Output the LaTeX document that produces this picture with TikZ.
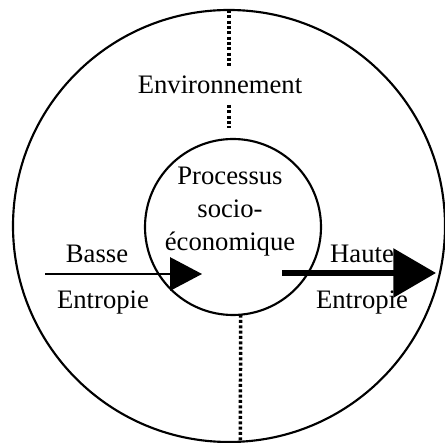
\documentclass[tikz,border=0pt]{standalone}
\usepackage{fontspec}
\setmainfont{Liberation Serif}
\usetikzlibrary{arrows.meta, positioning}

\begin{document}
\begin{tikzpicture}[
    x=0.75pt, y=0.75pt,
    ring/.style={draw, circle, line width=1.6pt, inner sep=0pt, outer sep=0pt},
    txt/.style={font=\fontsize{20}{24.75}\selectfont, inner sep=0pt, align=center},
    boundary/.style={line width=2.6pt, dash pattern=on 2.2pt off 1.8pt},
    flow_in/.style={line width=1.4pt, -{Triangle[length=24pt, width=25pt]}},
    flow_out/.style={line width=4.5pt, -{Triangle[length=32pt, width=36pt]}}
]
    \useasboundingbox[fill=white] (0,0) rectangle (445,442);

    % Environment and process circles
    \node[ring, minimum size=324pt] (env) at (229,216) {};
    \node[ring, minimum size=132pt] (proc) at (233,215) {};

    % Labels
    \node[txt] (envlabel) at (220,357.5) {Environnement};
    \node[txt] (proclabel) at (230,230) {Processus\\socio-\\économique};
    \node[txt] (basse) at (97,188) {Basse};
    \node[txt] (entropyin) at (103,139.5) {Entropie};
    \node[txt] (haute) at (362,188) {Haute};
    \node[txt] (entropyout) at (362,139.5) {Entropie};

    % Boundary between the process and its environment
    \coordinate (gapTop) at (229,374);
    \coordinate (gapBot) at (229,337);
    \coordinate (procTop) at (229,314);
    \draw[boundary] (env.north) -- (gapTop);
    \draw[boundary] (gapBot) -- (procTop);
    \draw[boundary] (proc.-85) -- (env.-87);

    % Entropy flows
    \coordinate (inStart) at (45,168);
    \coordinate (inEnd) at (202,168);
    \coordinate (outStart) at (282,169);
    \coordinate (outEnd) at (436,169);
    \draw[flow_in] (inStart) -- (inEnd);
    \draw[flow_out] (outStart) -- (outEnd);

\end{tikzpicture}
\end{document}
